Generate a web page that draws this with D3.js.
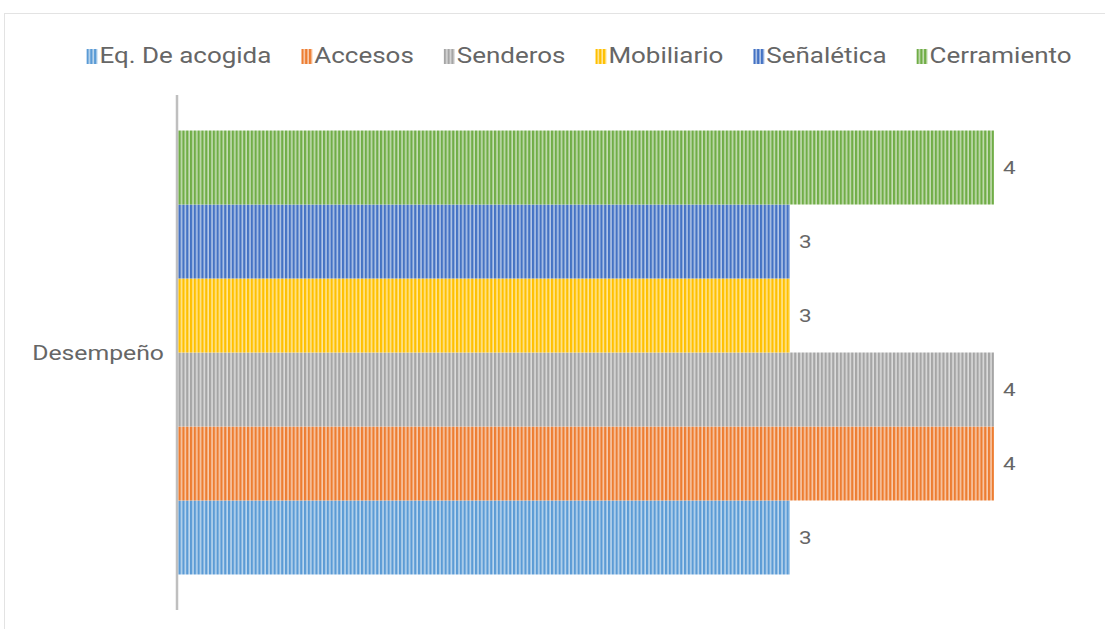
<!DOCTYPE html>
<html>
<head>
<meta charset="utf-8">
<script src="https://cdn.jsdelivr.net/npm/d3@7"></script>
<style>
  body { margin: 0; background: #fff; }
  svg text { font-family: Roboto, "Liberation Sans", Arial, sans-serif; fill: #666666; }
</style>
</head>
<body>
<div id="chart"></div>
<script>
// data
var categories = ["Desempeño"];
var series = ["Eq. De acogida", "Accesos", "Senderos", "Mobiliario", "Señalética", "Cerramiento"];
var values = [3, 4, 4, 3, 3, 4];
var colors = ["#5B9BD5", "#ED7D31", "#A5A5A5", "#FFC000", "#4472C4", "#70AD47"];

var width = 1105, height = 629;
var stretch = 1.18; // text in the picture is drawn a bit wide

var svg = d3.select("#chart").append("svg")
  .attr("width", width)
  .attr("height", height);

// chart area border (continues off the page right/bottom)
svg.append("rect")
  .attr("x", 4.5).attr("y", 13.5)
  .attr("width", 1200).attr("height", 700)
  .attr("fill", "none")
  .attr("stroke", "#e3e3e3");

// striped patterns
var defs = svg.append("defs");
series.forEach(function(s, i) {
  var p = defs.append("pattern")
    .attr("id", "pat" + i)
    .attr("patternUnits", "userSpaceOnUse")
    .attr("width", 3.8).attr("height", 10);
  p.append("rect").attr("width", 3.8).attr("height", 10)
    .attr("fill", d3.interpolateRgb(colors[i], "#fff")(0.6));
  p.append("rect").attr("width", 2.2).attr("height", 10)
    .attr("fill", colors[i]);
});

var x = d3.scaleLinear().domain([0, 4]).range([178, 994]);

var y0 = d3.scaleBand().domain(categories).range([95, 610])
  .paddingInner(0).paddingOuter(0.08);

// first series at the bottom
var y1 = d3.scaleBand().domain(series).range([y0.bandwidth(), 0]);

var g = svg.append("g").selectAll("g")
  .data(categories).enter()
  .append("g")
  .attr("transform", function(d) { return "translate(0," + y0(d) + ")"; });

var bars = g.selectAll("rect")
  .data(series.map(function(s, i) { return { name: s, value: values[i], i: i }; }))
  .enter();

bars.append("rect")
  .attr("x", x(0))
  .attr("y", function(d) { return y1(d.name); })
  .attr("width", function(d) { return x(d.value) - x(0); })
  .attr("height", y1.bandwidth())
  .attr("fill", function(d) { return "url(#pat" + d.i + ")"; });

bars.append("text")
  .attr("transform", function(d) {
    return "translate(" + (x(d.value) + 9) + "," + (y1(d.name) + y1.bandwidth() / 2) + ") scale(" + stretch + ",1)";
  })
  .attr("dy", "0.35em")
  .style("font-size", "19px")
  .text(function(d) { return d.value; });

// category axis
svg.append("line")
  .attr("x1", 177).attr("x2", 177)
  .attr("y1", 95).attr("y2", 610)
  .attr("stroke", "#bfbfbf")
  .attr("stroke-width", 2.5);

svg.selectAll(".cat")
  .data(categories).enter()
  .append("text")
  .attr("class", "cat")
  .attr("transform", function(d) {
    return "translate(164," + (y0(d) + y0.bandwidth() / 2) + ") scale(" + stretch + ",1)";
  })
  .attr("dy", "0.35em")
  .attr("text-anchor", "end")
  .style("font-size", "21px")
  .text(function(d) { return d; });

// legend
var legend = svg.append("g");
var lx = 0;
var items = legend.selectAll("g")
  .data(series).enter()
  .append("g");

items.append("rect")
  .attr("width", 11).attr("height", 15)
  .attr("y", -14)
  .attr("fill", function(d, i) { return "url(#pat" + i + ")"; });

items.append("text")
  .attr("transform", "translate(13,0) scale(" + stretch + ",1)")
  .style("font-size", "22px")
  .text(function(d) { return d; });

items.each(function() {
  var w = 13 + this.querySelector("text").getBBox().width * stretch;
  d3.select(this).attr("transform", "translate(" + lx + ",0)");
  lx += w + 30;
});
lx -= 30;
legend.attr("transform", "translate(" + (579 - lx / 2) + ",63)");
</script>
</body>
</html>
